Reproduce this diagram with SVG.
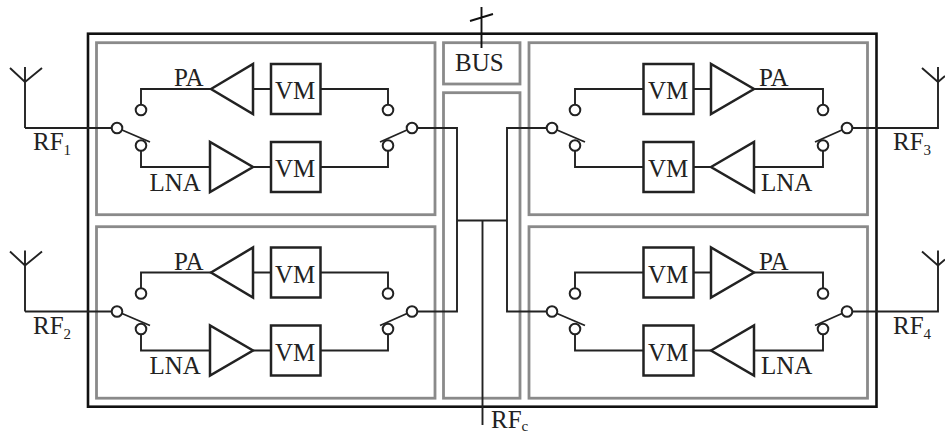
<svg xmlns="http://www.w3.org/2000/svg" xmlns:xlink="http://www.w3.org/1999/xlink" width="945" height="434" viewBox="0 0 945 434">
<style>
.o{fill:none;stroke:#111;stroke-width:2.6}
.p{fill:none;stroke:#8a8a8a;stroke-width:2.8}
.w{fill:none;stroke:#222;stroke-width:1.9}
.v{fill:#fff;stroke:#222;stroke-width:2.5}
.c{fill:#fff;stroke:#222;stroke-width:2}
text{font-family:"Liberation Serif","Times New Roman",serif;font-size:25px;fill:#222}
.s{font-size:15px}
</style>
<defs>
<g id="ant"><path class="w" d="M10 68L25 82L42 68M25 67V128"/></g>
<g id="left">
<path class="w" d="M141 105V89H212M253 89H271M320 89H388V105M141 150V167H211M253 167H271M320 167H388V150"/>
<path class="w" d="M122 130L150 142M407 130L380 142"/>
<path class="v" d="M211 89L253 64V114Z"/><path class="v" d="M210 142V192L253 167Z"/>
<rect class="v" x="271" y="64" width="49.500" height="50"/><rect class="v" x="271" y="142" width="49.500" height="50"/>
<circle class="c" cx="141" cy="110" r="5.300"/><circle class="c" cx="388" cy="110" r="5.300"/>
<circle class="c" cx="141" cy="145.500" r="5.300"/><circle class="c" cx="388" cy="145.500" r="5.300"/>
<circle class="c" cx="117" cy="128" r="5.300"/><circle class="c" cx="412" cy="128" r="5.300"/>
<text x="174" y="86">PA</text><text x="149.500" y="190.500">LNA</text>
<text x="275" y="99">VM</text><text x="275" y="177">VM</text>
</g>
<g id="right">
<path class="w" d="M575 105V89H643M693 89H711M754 89H823V105M575 150V167H643M693 167H711M754 167H823V150"/>
<path class="w" d="M557 130L585 142M842 130L815 142"/>
<path class="v" d="M711 64V114L754 89Z"/><path class="v" d="M711 167L754 142V192Z"/>
<rect class="v" x="643.500" y="64" width="50" height="50"/><rect class="v" x="643.500" y="142" width="50" height="50"/>
<circle class="c" cx="575" cy="110" r="5.300"/><circle class="c" cx="823" cy="110" r="5.300"/>
<circle class="c" cx="575" cy="145.500" r="5.300"/><circle class="c" cx="823" cy="145.500" r="5.300"/>
<circle class="c" cx="552" cy="128" r="5.300"/><circle class="c" cx="847" cy="128" r="5.300"/>
<text x="759" y="86">PA</text><text x="761" y="190.500">LNA</text>
<text x="648" y="99">VM</text><text x="648" y="177">VM</text>
</g>
</defs>
<rect width="945" height="434" fill="#fff"/>
<g id="frame"><rect class="o" x="88" y="33.700" width="788.500" height="373"/></g>
<g id="panels">
<rect class="p" x="96.500" y="42.700" width="338.500" height="172"/>
<rect class="p" x="96.500" y="226.700" width="338.500" height="171.500"/>
<rect class="p" x="529" y="42.700" width="338.500" height="172"/>
<rect class="p" x="529" y="226.700" width="338.500" height="171.500"/>
<rect class="p" x="443.500" y="92.700" width="76.500" height="305.500"/>
</g>
<g id="bus"><rect class="p" x="443.500" y="42.700" width="76.500" height="41.300"/>
<text x="455" y="70.500">BUS</text></g>
<g id="connectors">
<path class="w" d="M25 128H112M417 128H457V311.500H417M25 311.500H112M457 220.500H507M482.500 220.500V425M546 128H507V311.500H546M852 128H938V67M852 311.500H938V250.500"/>
<path class="w" d="M922 68L938 82L945 76M922 251.500L938 265.500L945 259.500"/>
<path class="o" style="stroke-width:1.9" d="M481.500 7V48M470 21L493 14"/>
</g>
<g id="antenna-1"><use xlink:href="#ant"/><text x="33" y="150">RF<tspan class="s" dy="5">1</tspan></text></g>
<g id="antenna-2"><use xlink:href="#ant" y="183.500"/><text x="33" y="333.500">RF<tspan class="s" dy="5">2</tspan></text></g>
<g id="antenna-3"><text x="893" y="150">RF<tspan class="s" dy="5">3</tspan></text></g>
<g id="antenna-4"><text x="893" y="333.500">RF<tspan class="s" dy="5">4</tspan></text></g>
<g id="block-1"><use xlink:href="#left"/></g>
<g id="block-2"><use xlink:href="#left" y="183.500"/></g>
<g id="block-3"><use xlink:href="#right"/></g>
<g id="block-4"><use xlink:href="#right" y="183.500"/></g>
<g id="rfc"><text x="491" y="428">RF<tspan class="s" dy="3">c</tspan></text></g>
</svg>
